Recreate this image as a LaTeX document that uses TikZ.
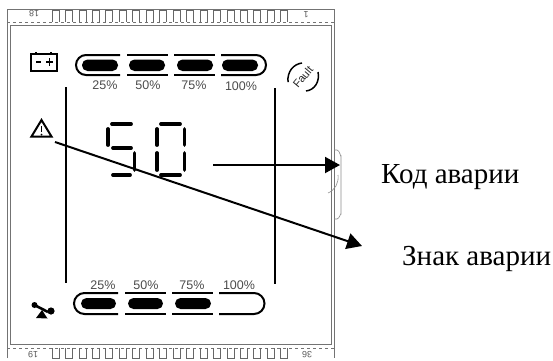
\documentclass[tikz,border=0pt]{standalone}
\usepackage{fontspec}
\setmainfont{Liberation Serif}
\newfontfamily\sansf{Liberation Sans}
\usetikzlibrary{arrows.meta}
\tikzset{
  frame/.style={draw=black!55,line width=0.8pt},
  pin/.style={draw=black!60,line width=0.7pt},
  barline/.style={draw=black,line width=2pt},
  pill/.style={fill=black,draw=none,rounded corners=5.5pt},
  seg/.style={draw=black,line width=3.8pt,line cap=round},
  pct/.style={font=\sansf\fontsize{12.5}{13}\selectfont,text=black!70,inner sep=0pt},
  rulev/.style={draw=black,line width=1.9pt},
  lead/.style={draw=black,line width=2pt,-{Triangle[length=15pt,width=16pt]}},
  ru/.style={font=\fontsize{29}{31}\selectfont,inner sep=0pt,anchor=base west},
  pinnum/.style={font=\sansf\fontsize{9}{10}\selectfont,text=black!65,inner sep=0pt,rotate=180}
}
\begin{document}
\begin{tikzpicture}[x=1pt,y=-1pt]
\useasboundingbox (0,0) rectangle (553,360);
\fill[white] (0,0) rectangle (553,360);
% outer
\draw[frame] (7,358) -- (7,9) -- (334,9) -- (334,358);
\draw[frame,dashed] (7,22) -- (334,22);
\draw[frame] (10,25) rectangle (331,344);
\draw[frame,dashed] (7,348) -- (334,348);
% tab
\draw[draw=black!45,line width=0.6pt] (334,150) -- (337,150) to[out=0,in=-90] (341,156) -- (341,214) to[out=90,in=0] (337,219) -- (334,219);
\draw[draw=black!45,line width=0.6pt] (338,175) .. controls (339,183) and (335,190) .. (328,193);
% pins
\foreach \i in {0,...,17}{
  \pgfmathsetmacro\xx{52+13.45*\i}
  \draw[pin] (\xx,22) -- (\xx,10) -- (\xx+7,10) -- (\xx+7,22);
  \draw[pin] (\xx,348) -- (\xx,358) -- (\xx+7,358) -- (\xx+7,348);
}
\node[pinnum] (n18) at (34,14) {18};
\node[pinnum] (n1) at (306,15) {1};
\node[pinnum] (n19) at (33,355) {19};
\node[pinnum] (n36) at (307,355) {36};
% battery icon
\draw[draw=black,line width=2.2pt] (31,54) rectangle (57,71);
\draw[black,line width=1.2pt] (36,52) -- (36,54) (51,52) -- (51,54);
\draw[black,line width=1.9pt] (36,62) -- (41,62) (46,62) -- (53,62) (49.5,58) -- (49.5,66);
% top bar
\draw[barline] (120,55) -- (86,55) arc[start angle=270,end angle=90,radius=10] -- (120,75);
\draw[barline] (127,55) -- (168,55) (127,75) -- (168,75);
\draw[barline] (174,55) -- (215,55) (174,75) -- (215,75);
\draw[barline] (221,55) -- (256,55) arc[start angle=-90,end angle=90,radius=10] -- (221,75);
\foreach \a/\b in {82/118,129/165,177/213,222/258}
  \fill[pill] (\a,59.5) rectangle (\b,71);
\node[pct] (t1) at (105,85) {25\%};
\node[pct] (t2) at (148,85) {50\%};
\node[pct] (t3) at (194,85) {75\%};
\node[pct] (t4) at (241,86) {100\%};
% fault
\node[font=\sansf\fontsize{11}{12}\selectfont,rotate=50,inner sep=0pt,text=black!85] (fault) at (303,77) {Fault};
\draw[black,line width=1.5pt] (302,63) .. controls (294,64) and (287,71) .. (288,82);
\draw[black,line width=1.5pt] (318,72) .. controls (320,81) and (315,90) .. (306,91);
% bottom bar
\draw[barline] (118,293) -- (84.5,293) arc[start angle=270,end angle=90,radius=10.5] -- (118,314);
\draw[barline] (125,293) -- (166,293) (125,314) -- (166,314);
\draw[barline] (172,293) -- (213,293) (172,314) -- (213,314);
\draw[barline] (219,293) -- (254,293) arc[start angle=-90,end angle=90,radius=10.5] -- (219,314);
\foreach \a/\b in {81/116,128/163,175/211}
  \fill[pill] (\a,298) rectangle (\b,309);
\node[pct] (b1) at (103,285) {25\%};
\node[pct] (b2) at (146,285) {50\%};
\node[pct] (b3) at (192,285) {75\%};
\node[pct] (b4) at (239,285) {100\%};
% fan icon
\fill[black] (34.5,305) circle (3);
\fill[black] (51,311) circle (3.6);
\draw[black,line width=2.6pt] (34.5,305) -- (48,312);
\fill[black] (42,310) -- (47.5,318.5) -- (36,318) -- cycle;
% vertical rules
\draw[rulev] (66,87) -- (66,283);
\draw[rulev] (275,88) -- (275,284);
% warning triangle
\draw[black,line width=2pt,line join=miter] (41.5,120) -- (51.5,136.5) -- (31.5,136.5) -- cycle;
\draw[black,line width=1.7pt] (41.5,126) -- (41.5,132);
\fill[black] (41.5,134.5) circle (1);
% digits
\draw[seg] (112,124) -- (131,124);
\draw[seg] (108,129) -- (108,145);
\draw[seg] (113,148) -- (131,148);
\draw[seg] (134.5,153) -- (134.5,170);
\draw[seg] (113,175) -- (130,175);
\draw[seg] (161,124) -- (180,124);
\draw[seg] (157,129) -- (157,145);
\draw[seg] (184.5,129) -- (184.5,145);
\draw[seg] (157,153) -- (157,170);
\draw[seg] (184.5,153) -- (184.5,170);
\draw[seg] (161,175) -- (180,175);
% labels
\node[ru] (kod) at (381,183) {Код аварии};
\node[ru] (znak) at (402,265) {Знак аварии};
% leaders
\coordinate (a1) at (213,165);
\coordinate (a2) at (340,165);
\coordinate (c1) at (55,142);
\coordinate (c2) at (362,246);
\draw[lead] (a1) -- (a2);
\draw[lead] (c1) -- (c2);
\end{tikzpicture}
\end{document}
